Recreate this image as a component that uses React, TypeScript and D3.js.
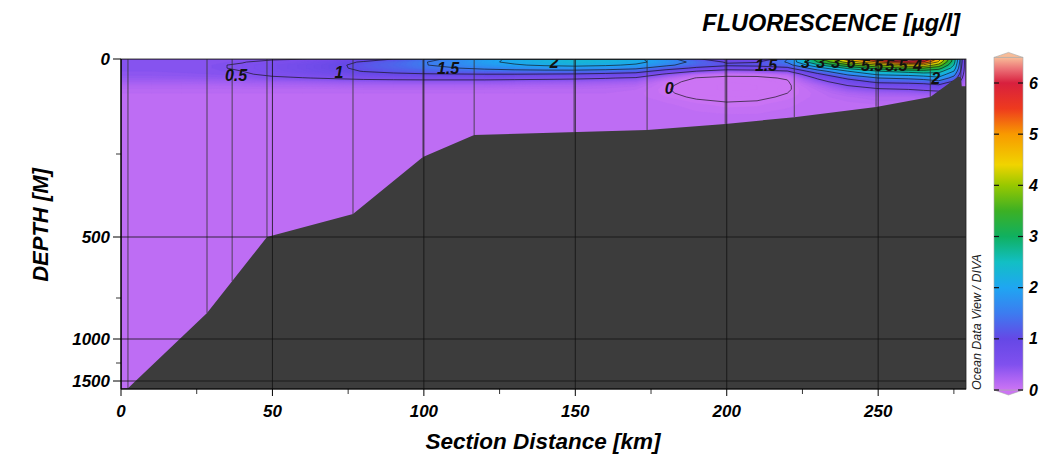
import React from 'react';
import * as d3 from 'd3';

// section distance of each grid column [km]
const distances = [0, 10, 20, 30, 40, 50, 60, 70, 80, 90, 100, 110, 120, 130, 140, 150, 160, 170, 180, 190, 200, 210, 220, 230, 240, 250, 260, 265, 270, 275, 279];
// depth of each grid row [m]
const depths = [0, 8, 16, 24, 32, 40, 50, 60, 70, 80, 90, 100, 120, 150, 200, 1600];

// fluorescence profiles [µg/l], one per column, surface to bottom
const fluorescence = [
  [0.45, 0.45, 0.45, 0.45, 0.44, 0.42, 0.36, 0.28, 0.2, 0.15, 0.12, 0.1, 0.1, 0.1, 0.1, 0.1],
  [0.45, 0.45, 0.46, 0.45, 0.44, 0.42, 0.36, 0.28, 0.2, 0.15, 0.12, 0.1, 0.1, 0.1, 0.1, 0.1],
  [0.45, 0.46, 0.47, 0.46, 0.45, 0.43, 0.37, 0.28, 0.2, 0.15, 0.12, 0.1, 0.1, 0.1, 0.1, 0.1],
  [0.45, 0.47, 0.48, 0.48, 0.47, 0.44, 0.38, 0.29, 0.2, 0.15, 0.12, 0.1, 0.1, 0.1, 0.1, 0.1],
  [0.46, 0.49, 0.52, 0.52, 0.5, 0.47, 0.4, 0.3, 0.21, 0.15, 0.12, 0.1, 0.1, 0.1, 0.1, 0.1],
  [0.47, 0.56, 0.62, 0.62, 0.6, 0.55, 0.46, 0.32, 0.22, 0.15, 0.12, 0.1, 0.1, 0.1, 0.1, 0.1],
  [0.49, 0.66, 0.74, 0.74, 0.7, 0.62, 0.49, 0.33, 0.22, 0.15, 0.12, 0.1, 0.1, 0.1, 0.1, 0.1],
  [0.55, 0.82, 0.9, 0.9, 0.84, 0.72, 0.53, 0.35, 0.23, 0.15, 0.12, 0.1, 0.1, 0.1, 0.1, 0.1],
  [0.75, 1.05, 1.12, 1.1, 1.02, 0.85, 0.58, 0.37, 0.24, 0.16, 0.12, 0.1, 0.1, 0.1, 0.1, 0.1],
  [1.0, 1.25, 1.28, 1.24, 1.12, 0.92, 0.6, 0.38, 0.24, 0.16, 0.12, 0.1, 0.1, 0.1, 0.1, 0.1],
  [1.35, 1.48, 1.48, 1.4, 1.22, 0.96, 0.62, 0.38, 0.24, 0.16, 0.12, 0.1, 0.1, 0.1, 0.1, 0.1],
  [1.6, 1.65, 1.62, 1.48, 1.26, 0.98, 0.62, 0.38, 0.24, 0.16, 0.12, 0.1, 0.1, 0.1, 0.1, 0.1],
  [1.88, 1.92, 1.82, 1.6, 1.3, 1.0, 0.62, 0.38, 0.24, 0.16, 0.12, 0.1, 0.1, 0.1, 0.1, 0.1],
  [2.08, 2.08, 1.96, 1.7, 1.34, 1.0, 0.6, 0.37, 0.23, 0.15, 0.12, 0.1, 0.1, 0.1, 0.1, 0.1],
  [2.2, 2.22, 2.06, 1.76, 1.36, 0.98, 0.58, 0.36, 0.22, 0.15, 0.12, 0.1, 0.1, 0.1, 0.1, 0.1],
  [2.3, 2.32, 2.12, 1.78, 1.36, 0.96, 0.56, 0.34, 0.22, 0.15, 0.12, 0.1, 0.1, 0.1, 0.1, 0.1],
  [2.26, 2.26, 2.06, 1.72, 1.3, 0.9, 0.52, 0.32, 0.2, 0.14, 0.12, 0.1, 0.1, 0.1, 0.1, 0.1],
  [2.1, 2.12, 1.94, 1.6, 1.2, 0.82, 0.46, 0.28, 0.17, 0.12, 0.1, 0.1, 0.1, 0.1, 0.1, 0.1],
  [1.7, 1.8, 1.6, 1.22, 0.8, 0.45, 0.18, 0.05, 0.02, 0.01, 0.02, 0.04, 0.09, 0.1, 0.1, 0.1],
  [1.1, 1.35, 1.25, 0.92, 0.5, 0.16, -0.01, -0.05, -0.06, -0.06, -0.05, -0.02, 0.05, 0.1, 0.1, 0.1],
  [0.4, 0.95, 1.08, 0.72, 0.32, 0.05, -0.04, -0.08, -0.09, -0.09, -0.07, -0.04, 0.02, 0.09, 0.1, 0.1],
  [0.4, 0.98, 1.12, 0.76, 0.36, 0.06, -0.04, -0.07, -0.08, -0.08, -0.06, -0.03, 0.03, 0.09, 0.1, 0.1],
  [1.5, 1.55, 1.3, 0.9, 0.48, 0.16, 0.02, -0.02, -0.03, -0.02, 0.0, 0.02, 0.07, 0.1, 0.1, 0.1],
  [3.3, 3.0, 2.4, 1.8, 1.3, 0.9, 0.55, 0.35, 0.2, 0.13, 0.1, 0.1, 0.1, 0.1, 0.1, 0.1],
  [4.8, 4.2, 3.4, 2.6, 2.0, 1.6, 1.1, 0.75, 0.5, 0.35, 0.22, 0.15, 0.1, 0.1, 0.1, 0.1],
  [6.0, 5.0, 4.0, 3.2, 2.5, 2.1, 1.5, 1.1, 0.7, 0.45, 0.3, 0.2, 0.12, 0.1, 0.1, 0.1],
  [6.6, 5.6, 4.4, 3.5, 2.7, 2.2, 1.6, 1.15, 0.75, 0.5, 0.32, 0.2, 0.12, 0.1, 0.1, 0.1],
  [6.2, 5.4, 4.4, 3.5, 2.8, 2.3, 1.7, 1.2, 0.8, 0.55, 0.35, 0.22, 0.12, 0.1, 0.1, 0.1],
  [4.8, 4.4, 3.8, 3.2, 2.7, 2.3, 1.9, 1.35, 0.9, 0.6, 0.38, 0.24, 0.12, 0.1, 0.1, 0.1],
  [2.8, 2.7, 2.5, 2.3, 2.0, 1.7, 1.3, 0.9, 0.55, 0.38, 0.26, 0.18, 0.1, 0.1, 0.1, 0.1],
  [0.2, 0.2, 0.2, 0.2, 0.2, 0.18, 0.15, 0.12, 0.1, 0.1, 0.1, 0.1, 0.1, 0.1, 0.1, 0.1],
];

// bottom topography along the section [km, m]
const bathyKm = [0, 2.3, 28.4, 48.2, 76.6, 99.7, 116.6, 173.7, 199.5, 222.3, 249.3, 267.2, 276.4, 277.3, 277.6, 279];
const bathyDepth = [1600, 1590, 841, 500, 431, 259, 200, 187, 171, 153, 126, 100, 47, 47, 72, 72];
// station positions [km]
const stations = [2.3, 28.4, 36.7, 48.2, 76.6, 99.7, 116.6, 149.6, 173.7, 199.5, 222.3, 249.3, 267.2, 277.3];

// contour levels and their labels
const contourLevels = [0, 0.5, 1, 1.5, 2, 2.5, 3, 3.5, 4, 4.5, 5, 5.5, 6, 6.5];
const labelText = ['0.5', '1', '1.5', '2', '0', '1.5', '3', '3', '3', '6', '5.5', '5.5', '4', '2'];
const labelKm = [38, 72, 108, 143, 181, 213, 226, 231, 236, 241, 248, 256, 263, 269];
const labelDepth = [44, 36, 26, 10, 78, 18, 10, 10, 10, 10, 16, 16, 16, 50];

// colour scale
const colorValues = [0, 0.25, 0.5, 1, 1.5, 2, 2.5, 3, 3.5, 4, 4.4, 5, 5.5, 6, 6.25, 6.5];
const colorHex = ['#cc74f4', '#a862f3', '#8050ee', '#6548e6', '#3c7cf0', '#1fa6f2', '#12bfc4', '#10b060', '#3cb024', '#98c800', '#f0d400', '#f89a00', '#ee3a1e', '#d8203e', '#ea6a72', '#f8bc98'];

const xTicks = [0, 50, 100, 150, 200, 250];
const xMinor = [25, 75, 125, 175, 225, 275];
const yTicks = [0, 500, 1000, 1500];
const yMinor = [250, 750, 1250];
const cbTicks = [0, 1, 2, 3, 4, 5, 6];

const FONT = '"Liberation Sans", Arial, sans-serif';

const x = d3.scaleLinear().domain([0, 279]).range([121, 966]);
// ODV style stretched depth axis
const y = d3.scaleLinear()
  .domain([0, 250, 500, 750, 1000, 1250, 1500, 1600])
  .range([59, 154, 237, 298, 339, 363, 381, 389]);
const color = d3.scaleLinear<string>().domain(colorValues).range(colorHex).clamp(true);
const cbY = d3.scaleLinear().domain([0, 6]).range([390, 83]);

export default function App() {
  const n = distances.length;
  const m = depths.length;
  const grid: number[] = new Array(n * m);
  for (let j = 0; j < m; j++) {
    for (let i = 0; i < n; i++) grid[j * n + i] = fluorescence[i][j];
  }

  const colKm = d3.scaleLinear().domain(distances.map((_, i) => i + 0.5)).range(distances).clamp(true);
  const rowDepth = d3.scaleLinear().domain(depths.map((_, j) => j + 0.5)).range(depths).clamp(true);
  const proj = d3.geoTransform({
    point(px: number, py: number) {
      (this as any).stream.point(x(colKm(px)), y(rowDepth(py)));
    },
  });
  const path = d3.geoPath(proj);

  const bands = d3.contours().size([n, m]).thresholds(d3.range(-0.12, 6.8, 0.04))(grid);
  const lines = d3.contours().size([n, m]).thresholds(contourLevels)(grid);

  const bathyY = d3.scaleLinear().domain(bathyKm).range(bathyKm.map((k, i) => y(bathyDepth[i])));
  const bathyPts: [number, number][] = bathyKm.map((k, i) => [x(k), y(bathyDepth[i])]);
  bathyPts.push([x(279), y(1600)], [x(0), y(1600)]);
  const bathyPath = 'M' + bathyPts.map(p => p.join(',')).join('L') + 'Z';

  const cbTop = cbY(6.5);
  const cbBot = cbY(0);

  return (
    <svg width={1042} height={465} style={{ position: 'absolute', left: 0, top: 0, background: '#fff' }} fontFamily={FONT}>
      <defs>
        <clipPath id="plotClip">
          <rect x={121} y={59} width={845} height={330} />
        </clipPath>
        <linearGradient id="cbGrad" x1="0" y1={cbBot} x2="0" y2={cbTop} gradientUnits="userSpaceOnUse">
          {colorValues.map(v => (
            <stop key={v} offset={v / 6.5} stopColor={color(v)} />
          ))}
        </linearGradient>
      </defs>

      <g clipPath="url(#plotClip)">
        <rect x={121} y={59} width={845} height={330} fill={color(0.1)} />
        {bands.map((c, i) => (
          <path key={i} d={path(c) || ''} fill={color(c.value + 0.02)} stroke={color(c.value + 0.02)} strokeWidth={0.3} />
        ))}
        {lines.map((c, i) => (
          <path key={i} d={path(c) || ''} fill="none" stroke="#111" strokeWidth={0.65} />
        ))}
        {stations.map(s => (
          <line key={s} x1={x(s)} x2={x(s)} y1={59} y2={bathyY(s)} stroke="#333" strokeWidth={0.8} />
        ))}
        {labelText.map((t, i) => (
          <text key={i} x={x(labelKm[i])} y={y(labelDepth[i])} dy="0.35em" textAnchor="middle"
            fontSize={16} fontWeight="bold" fontStyle="italic" fill="#111">{t}</text>
        ))}
        <path d={bathyPath} fill="#3c3c3c" />
        {xTicks.slice(1).map(t => (
          <line key={t} x1={x(t)} x2={x(t)} y1={59} y2={389} stroke="#111" strokeWidth={0.8} />
        ))}
        {yTicks.slice(1).map(t => (
          <line key={t} x1={121} x2={966} y1={y(t)} y2={y(t)} stroke="#111" strokeWidth={0.8} />
        ))}
      </g>
      <rect x={121} y={59} width={845} height={330} fill="none" stroke="#222" strokeWidth={0.8} />

      {/* y axis */}
      <line x1={121} x2={121} y1={59} y2={389} stroke="#000" strokeWidth={1.2} />
      {yTicks.map(t => (
        <g key={t}>
          <line x1={113} x2={121} y1={y(t)} y2={y(t)} stroke="#000" strokeWidth={1} />
          <text x={110} y={y(t)} dy="0.35em" textAnchor="end" fontSize={17} fontWeight="bold" fontStyle="italic">{t}</text>
        </g>
      ))}
      {yMinor.map(t => (
        <line key={t} x1={116} x2={121} y1={y(t)} y2={y(t)} stroke="#000" strokeWidth={0.8} />
      ))}
      <text transform="translate(48,225) rotate(-90)" textAnchor="middle" fontSize={22} fontWeight="bold" fontStyle="italic">DEPTH [M]</text>

      {/* x axis */}
      <line x1={121} x2={966} y1={389} y2={389} stroke="#000" strokeWidth={1.2} />
      {xTicks.map(t => (
        <g key={t}>
          <line x1={x(t)} x2={x(t)} y1={389} y2={396} stroke="#000" strokeWidth={1} />
          <text x={x(t)} y={411} dy="0.35em" textAnchor="middle" fontSize={17} fontWeight="bold" fontStyle="italic">{t}</text>
        </g>
      ))}
      {xMinor.map(t => (
        <line key={t} x1={x(t)} x2={x(t)} y1={389} y2={394} stroke="#000" strokeWidth={0.8} />
      ))}
      <text x={543} y={449} textAnchor="middle" fontSize={22.5} fontWeight="bold" fontStyle="italic">Section Distance [km]</text>

      {/* title */}
      <text x={960} y={31} textAnchor="end" fontSize={23.5} fontWeight="bold" fontStyle="italic">FLUORESCENCE [µg/l]</text>

      {/* colour bar */}
      <path d={`M994,${cbTop}L1008.5,${cbTop - 5}L1023,${cbTop}Z`} fill={color(6.5)} stroke="#aaa" strokeWidth={0.6} />
      <path d={`M994,${cbBot}L1008.5,${cbBot + 5}L1023,${cbBot}Z`} fill={color(0)} stroke="#aaa" strokeWidth={0.6} />
      <rect x={994} y={cbTop} width={29} height={cbBot - cbTop} fill="url(#cbGrad)" stroke="#aaa" strokeWidth={0.6} />
      {cbTicks.map(t => (
        <g key={t}>
          <line x1={994} x2={999} y1={cbY(t)} y2={cbY(t)} stroke="#111" strokeWidth={1.2} />
          <line x1={1018} x2={1023} y1={cbY(t)} y2={cbY(t)} stroke="#111" strokeWidth={1.2} />
          <text x={1029} y={cbY(t)} dy="0.35em" fontSize={16} fontWeight="bold" fontStyle="italic">{t}</text>
        </g>
      ))}
      <text transform="translate(981,390) rotate(-90)" fontSize={12.5} fontStyle="italic" fill="#222">Ocean Data View / DIVA</text>
    </svg>
  );
}
